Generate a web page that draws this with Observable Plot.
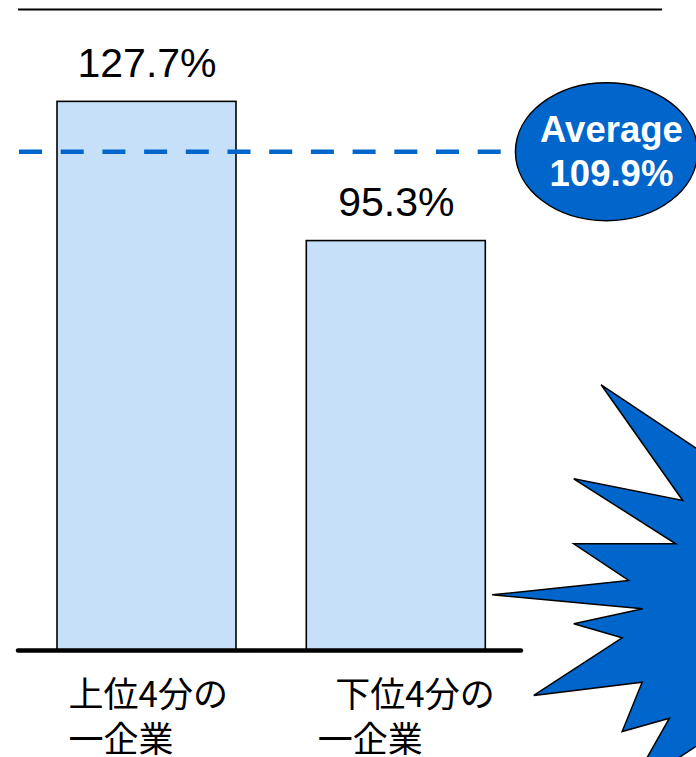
<!DOCTYPE html>
<html>
<head>
<meta charset="utf-8">
<script src="https://cdn.jsdelivr.net/npm/d3@7"></script>
<script src="https://cdn.jsdelivr.net/npm/@observablehq/plot@0.6"></script>
<style>
  html, body { margin: 0; padding: 0; background: white; overflow: hidden; }
  #chart svg { display: block; }
</style>
</head>
<body>
<div id="chart"></div>
<script>
// ---- data ----
const categories = ["上位4分の\n一企業", "\u2002下位4分の\n一企業"];
const values = [127.7, 95.3];
const averageText = "Average\n109.9%";
const averageLineValue = 116.1;   // level where the dashed line is drawn in the picture
const axisTop = 149.2;            // value at the upper rule

// ---- layout / decoration ----
const W = 696, H = 757;
const halfBar = 0.359;            // half bar width, in category-slot units
const blue = "#0066cc";
const barFill = "#c6e0f9";

const data = categories.map((c, i) => ({i, label: c, value: values[i]}));

// ellipse symbol (wider than tall)
const ellipseSymbol = {
  draw(ctx, size) {
    const r = Math.sqrt(size / Math.PI);
    const rx = r * 91 / 69, ry = r, k = 0.5523;
    const kx = k * rx, ky = k * ry;
    ctx.moveTo(rx, 0);
    ctx.bezierCurveTo(rx, ky, kx, ry, 0, ry);
    ctx.bezierCurveTo(-kx, ry, -rx, ky, -rx, 0);
    ctx.bezierCurveTo(-rx, -ky, -kx, -ry, 0, -ry);
    ctx.bezierCurveTo(kx, -ry, rx, -ky, rx, 0);
    ctx.closePath();
  }
};

// starburst outline (pixel offsets from its anchor)
const burstShape = [
  [-99.3, -215.7], [-17.7, -100], [-126.7, -121.7], [-24.7, -56.7], [-126.7, -56.7],
  [-71.7, -20], [-208.3, -5.7], [-57.7, 8.3], [-126.7, 23.3], [-78.3, 37.3],
  [-166.7, 95], [-58.3, 81.7], [-78.3, 131], [-31, 117.7], [-72, 190],
  [20, 130], [100, 200], [100, -220], [20, -136]
];
const burstSymbol = {
  draw(ctx) {
    burstShape.forEach(([x, y], j) => j ? ctx.lineTo(x, y) : ctx.moveTo(x, y));
    ctx.closePath();
  }
};

const decor = {
  ruleLeft: -0.5154, baseRight: 1.502, topRight: 2.068, dashLeft: -0.5114,
  ellipseX: 1.843, burstX: 2.22, burstY: 11.64
};

const chart = Plot.plot({
  width: W,
  height: H,
  margin: 0,
  style: {background: "white", overflow: "hidden", fontFamily: "'Liberation Sans', Arial, sans-serif"},
  x: {type: "linear", domain: [0, 1], range: [146.5, 395.8], axis: null},
  y: {domain: [0, axisTop], range: [650, 9], axis: null},
  marks: [
    Plot.rectY(data, {x1: d => d.i - halfBar, x2: d => d.i + halfBar, y: "value",
      fill: barFill, stroke: "black", strokeWidth: 1.6}),
    Plot.ruleY([axisTop], {x1: decor.ruleLeft, x2: decor.topRight, stroke: "black", strokeWidth: 2}),
    Plot.ruleY([0], {x1: decor.ruleLeft, x2: decor.baseRight, stroke: "black", strokeWidth: 4.5, strokeLinecap: "round"}),
    Plot.ruleY([averageLineValue], {x1: decor.dashLeft, x2: decor.baseRight, stroke: blue, strokeWidth: 4.5, strokeDasharray: "23,18.7"}),
    Plot.text(data, {x: "i", y: "value", text: d => d.value.toFixed(1) + "%",
      lineAnchor: "bottom", dy: -25, fontSize: 41, fill: "black"}),
    Plot.text(data, {x: "i", y: () => 0, text: "label", textAnchor: "start", dx: -78.5,
      lineAnchor: "top", dy: 25, lineHeight: 1.286, fontSize: 35, fill: "black",
      fontFamily: "'Noto Sans CJK JP', sans-serif"}),
    Plot.dot([averageLineValue], {x: () => decor.ellipseX, y: d => d, r: 69, symbol: ellipseSymbol,
      fill: blue, stroke: "black", strokeWidth: 1.5}),
    Plot.text([averageText], {x: () => decor.ellipseX, y: () => averageLineValue, text: d => d, dx: 5, dy: -1.5,
      fill: "white", fontWeight: "bold", fontSize: 36.5, lineHeight: 1.2}),
    Plot.dot([0], {x: () => decor.burstX, y: () => decor.burstY, r: 10, symbol: burstSymbol,
      fill: blue, stroke: "black", strokeWidth: 1.5, strokeLinejoin: "miter"})
  ]
});
document.getElementById("chart").append(chart);
</script>
</body>
</html>
